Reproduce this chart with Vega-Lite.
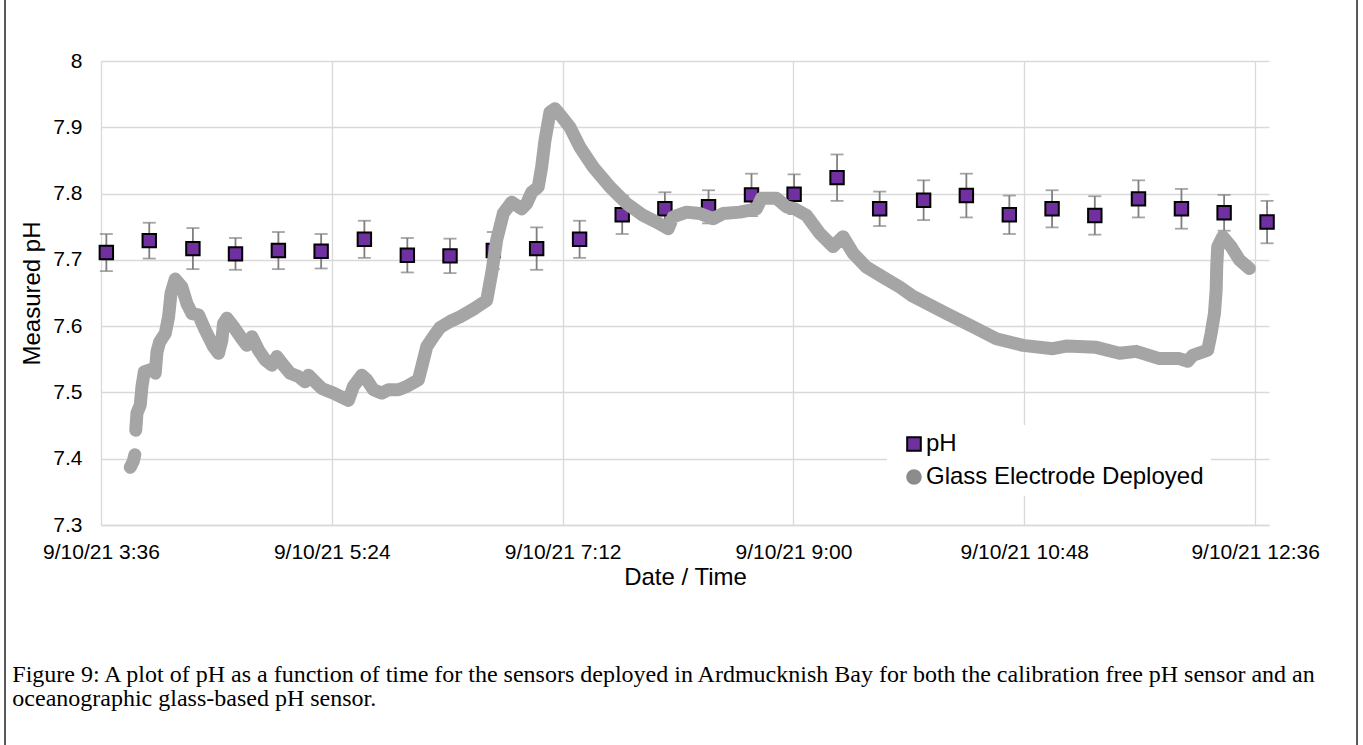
{
  "$schema": "https://vega.github.io/schema/vega-lite/v6.json",
  "width": 1168,
  "height": 464,
  "autosize": {"type": "none"},
  "padding": {"left": 101, "top": 61, "right": 94, "bottom": 220},
  "background": "white",
  "config": {
    "font": "Liberation Sans",
    "view": {"stroke": null}
  },
  "title": {
    "text": ["Figure 9: A plot of pH as a function of time for the sensors deployed in Ardmucknish Bay for both the calibration free pH sensor and an", "oceanographic glass-based pH sensor."],
    "orient": "bottom",
    "anchor": "start",
    "frame": "bounds",
    "font": "Liberation Serif",
    "fontSize": 24,
    "fontWeight": "normal",
    "color": "#000000",
    "lineHeight": 24,
    "offset": -128,
    "dx": 8
  },
  "datasets": {
    "sensor": [
      {"time": "2021-09-10T03:38:30", "ph": 7.711, "err": 0.028},
      {"time": "2021-09-10T03:58:35", "ph": 7.729, "err": 0.027},
      {"time": "2021-09-10T04:19:00", "ph": 7.717, "err": 0.031},
      {"time": "2021-09-10T04:38:56", "ph": 7.709, "err": 0.024},
      {"time": "2021-09-10T04:59:00", "ph": 7.714, "err": 0.028},
      {"time": "2021-09-10T05:19:00", "ph": 7.713, "err": 0.026},
      {"time": "2021-09-10T05:39:14", "ph": 7.731, "err": 0.028},
      {"time": "2021-09-10T05:59:20", "ph": 7.707, "err": 0.026},
      {"time": "2021-09-10T06:19:18", "ph": 7.706, "err": 0.026},
      {"time": "2021-09-10T06:39:34", "ph": 7.714, "err": 0.028},
      {"time": "2021-09-10T06:59:50", "ph": 7.717, "err": 0.032},
      {"time": "2021-09-10T07:19:56", "ph": 7.731, "err": 0.028},
      {"time": "2021-09-10T07:39:52", "ph": 7.768, "err": 0.029},
      {"time": "2021-09-10T07:59:50", "ph": 7.777, "err": 0.025},
      {"time": "2021-09-10T08:20:16", "ph": 7.780, "err": 0.025},
      {"time": "2021-09-10T08:40:22", "ph": 7.798, "err": 0.032},
      {"time": "2021-09-10T09:00:18", "ph": 7.799, "err": 0.030},
      {"time": "2021-09-10T09:20:24", "ph": 7.824, "err": 0.035},
      {"time": "2021-09-10T09:40:20", "ph": 7.777, "err": 0.026},
      {"time": "2021-09-10T10:00:54", "ph": 7.790, "err": 0.030},
      {"time": "2021-09-10T10:20:54", "ph": 7.797, "err": 0.033},
      {"time": "2021-09-10T10:41:00", "ph": 7.768, "err": 0.029},
      {"time": "2021-09-10T11:01:00", "ph": 7.777, "err": 0.028},
      {"time": "2021-09-10T11:21:00", "ph": 7.767, "err": 0.029},
      {"time": "2021-09-10T11:41:26", "ph": 7.792, "err": 0.028},
      {"time": "2021-09-10T12:01:32", "ph": 7.777, "err": 0.030},
      {"time": "2021-09-10T12:21:30", "ph": 7.771, "err": 0.027},
      {"time": "2021-09-10T12:41:36", "ph": 7.757, "err": 0.032}
    ],
    "glass": [
      {"time": "2021-09-10T03:49:40", "ph": 7.387, "seg": 1},
      {"time": "2021-09-10T03:51:05", "ph": 7.396, "seg": 1},
      {"time": "2021-09-10T03:51:50", "ph": 7.406, "seg": 1},
      {"time": "2021-09-10T03:52:15", "ph": 7.443, "seg": 2},
      {"time": "2021-09-10T03:52:50", "ph": 7.469, "seg": 2},
      {"time": "2021-09-10T03:54:22", "ph": 7.481, "seg": 2},
      {"time": "2021-09-10T03:55:10", "ph": 7.509, "seg": 2},
      {"time": "2021-09-10T03:56:14", "ph": 7.531, "seg": 2},
      {"time": "2021-09-10T03:59:50", "ph": 7.535, "seg": 2},
      {"time": "2021-09-10T04:01:23", "ph": 7.529, "seg": 2},
      {"time": "2021-09-10T04:02:11", "ph": 7.561, "seg": 2},
      {"time": "2021-09-10T04:03:24", "ph": 7.576, "seg": 2},
      {"time": "2021-09-10T04:06:04", "ph": 7.589, "seg": 2},
      {"time": "2021-09-10T04:07:37", "ph": 7.614, "seg": 2},
      {"time": "2021-09-10T04:08:44", "ph": 7.649, "seg": 2},
      {"time": "2021-09-10T04:10:44", "ph": 7.671, "seg": 2},
      {"time": "2021-09-10T04:13:52", "ph": 7.659, "seg": 2},
      {"time": "2021-09-10T04:16:13", "ph": 7.634, "seg": 2},
      {"time": "2021-09-10T04:18:33", "ph": 7.619, "seg": 2},
      {"time": "2021-09-10T04:21:38", "ph": 7.617, "seg": 2},
      {"time": "2021-09-10T04:24:46", "ph": 7.594, "seg": 2},
      {"time": "2021-09-10T04:28:38", "ph": 7.569, "seg": 2},
      {"time": "2021-09-10T04:30:59", "ph": 7.559, "seg": 2},
      {"time": "2021-09-10T04:32:34", "ph": 7.579, "seg": 2},
      {"time": "2021-09-10T04:33:19", "ph": 7.604, "seg": 2},
      {"time": "2021-09-10T04:34:55", "ph": 7.612, "seg": 2},
      {"time": "2021-09-10T04:38:00", "ph": 7.599, "seg": 2},
      {"time": "2021-09-10T04:41:55", "ph": 7.581, "seg": 2},
      {"time": "2021-09-10T04:44:16", "ph": 7.571, "seg": 2},
      {"time": "2021-09-10T04:46:36", "ph": 7.584, "seg": 2},
      {"time": "2021-09-10T04:49:41", "ph": 7.564, "seg": 2},
      {"time": "2021-09-10T04:52:49", "ph": 7.549, "seg": 2},
      {"time": "2021-09-10T04:55:57", "ph": 7.541, "seg": 2},
      {"time": "2021-09-10T04:58:17", "ph": 7.554, "seg": 2},
      {"time": "2021-09-10T05:01:22", "ph": 7.541, "seg": 2},
      {"time": "2021-09-10T05:04:30", "ph": 7.529, "seg": 2},
      {"time": "2021-09-10T05:08:23", "ph": 7.524, "seg": 2},
      {"time": "2021-09-10T05:11:31", "ph": 7.516, "seg": 2},
      {"time": "2021-09-10T05:13:04", "ph": 7.526, "seg": 2},
      {"time": "2021-09-10T05:16:11", "ph": 7.516, "seg": 2},
      {"time": "2021-09-10T05:19:19", "ph": 7.506, "seg": 2},
      {"time": "2021-09-10T05:24:45", "ph": 7.499, "seg": 2},
      {"time": "2021-09-10T05:31:46", "ph": 7.488, "seg": 2},
      {"time": "2021-09-10T05:34:06", "ph": 7.509, "seg": 2},
      {"time": "2021-09-10T05:38:02", "ph": 7.526, "seg": 2},
      {"time": "2021-09-10T05:40:22", "ph": 7.519, "seg": 2},
      {"time": "2021-09-10T05:43:27", "ph": 7.504, "seg": 2},
      {"time": "2021-09-10T05:47:23", "ph": 7.499, "seg": 2},
      {"time": "2021-09-10T05:50:28", "ph": 7.504, "seg": 2},
      {"time": "2021-09-10T05:55:08", "ph": 7.504, "seg": 2},
      {"time": "2021-09-10T05:59:04", "ph": 7.509, "seg": 2},
      {"time": "2021-09-10T06:04:29", "ph": 7.519, "seg": 2},
      {"time": "2021-09-10T06:06:05", "ph": 7.539, "seg": 2},
      {"time": "2021-09-10T06:08:25", "ph": 7.569, "seg": 2},
      {"time": "2021-09-10T06:11:30", "ph": 7.584, "seg": 2},
      {"time": "2021-09-10T06:14:38", "ph": 7.598, "seg": 2},
      {"time": "2021-09-10T06:19:19", "ph": 7.607, "seg": 2},
      {"time": "2021-09-10T06:23:59", "ph": 7.614, "seg": 2},
      {"time": "2021-09-10T06:30:59", "ph": 7.627, "seg": 2},
      {"time": "2021-09-10T06:36:28", "ph": 7.639, "seg": 2},
      {"time": "2021-09-10T06:38:48", "ph": 7.680, "seg": 2},
      {"time": "2021-09-10T06:41:08", "ph": 7.730, "seg": 2},
      {"time": "2021-09-10T06:44:14", "ph": 7.770, "seg": 2},
      {"time": "2021-09-10T06:48:09", "ph": 7.787, "seg": 2},
      {"time": "2021-09-10T06:52:50", "ph": 7.777, "seg": 2},
      {"time": "2021-09-10T06:55:10", "ph": 7.785, "seg": 2},
      {"time": "2021-09-10T06:57:31", "ph": 7.802, "seg": 2},
      {"time": "2021-09-10T07:00:35", "ph": 7.810, "seg": 2},
      {"time": "2021-09-10T07:02:11", "ph": 7.840, "seg": 2},
      {"time": "2021-09-10T07:03:43", "ph": 7.880, "seg": 2},
      {"time": "2021-09-10T07:06:04", "ph": 7.923, "seg": 2},
      {"time": "2021-09-10T07:08:24", "ph": 7.928, "seg": 2},
      {"time": "2021-09-10T07:12:17", "ph": 7.913, "seg": 2},
      {"time": "2021-09-10T07:15:25", "ph": 7.900, "seg": 2},
      {"time": "2021-09-10T07:20:05", "ph": 7.870, "seg": 2},
      {"time": "2021-09-10T07:26:19", "ph": 7.840, "seg": 2},
      {"time": "2021-09-10T07:34:07", "ph": 7.810, "seg": 2},
      {"time": "2021-09-10T07:41:55", "ph": 7.785, "seg": 2},
      {"time": "2021-09-10T07:49:41", "ph": 7.767, "seg": 2},
      {"time": "2021-09-10T07:55:57", "ph": 7.757, "seg": 2},
      {"time": "2021-09-10T08:01:22", "ph": 7.747, "seg": 2},
      {"time": "2021-09-10T08:03:43", "ph": 7.765, "seg": 2},
      {"time": "2021-09-10T08:09:58", "ph": 7.772, "seg": 2},
      {"time": "2021-09-10T08:16:11", "ph": 7.770, "seg": 2},
      {"time": "2021-09-10T08:22:25", "ph": 7.762, "seg": 2},
      {"time": "2021-09-10T08:27:05", "ph": 7.770, "seg": 2},
      {"time": "2021-09-10T08:34:53", "ph": 7.772, "seg": 2},
      {"time": "2021-09-10T08:42:42", "ph": 7.777, "seg": 2},
      {"time": "2021-09-10T08:45:02", "ph": 7.793, "seg": 2},
      {"time": "2021-09-10T08:52:03", "ph": 7.793, "seg": 2},
      {"time": "2021-09-10T08:56:44", "ph": 7.780, "seg": 2},
      {"time": "2021-09-10T09:00:37", "ph": 7.777, "seg": 2},
      {"time": "2021-09-10T09:06:05", "ph": 7.767, "seg": 2},
      {"time": "2021-09-10T09:12:18", "ph": 7.740, "seg": 2},
      {"time": "2021-09-10T09:18:31", "ph": 7.720, "seg": 2},
      {"time": "2021-09-10T09:23:11", "ph": 7.735, "seg": 2},
      {"time": "2021-09-10T09:27:52", "ph": 7.710, "seg": 2},
      {"time": "2021-09-10T09:34:08", "ph": 7.689, "seg": 2},
      {"time": "2021-09-10T09:41:53", "ph": 7.674, "seg": 2},
      {"time": "2021-09-10T09:49:42", "ph": 7.659, "seg": 2},
      {"time": "2021-09-10T09:55:55", "ph": 7.645, "seg": 2},
      {"time": "2021-09-10T10:11:32", "ph": 7.619, "seg": 2},
      {"time": "2021-09-10T10:23:58", "ph": 7.599, "seg": 2},
      {"time": "2021-09-10T10:34:55", "ph": 7.581, "seg": 2},
      {"time": "2021-09-10T10:47:21", "ph": 7.571, "seg": 2},
      {"time": "2021-09-10T11:01:22", "ph": 7.566, "seg": 2},
      {"time": "2021-09-10T11:07:38", "ph": 7.570, "seg": 2},
      {"time": "2021-09-10T11:21:40", "ph": 7.568, "seg": 2},
      {"time": "2021-09-10T11:32:33", "ph": 7.559, "seg": 2},
      {"time": "2021-09-10T11:40:22", "ph": 7.562, "seg": 2},
      {"time": "2021-09-10T11:51:15", "ph": 7.551, "seg": 2},
      {"time": "2021-09-10T12:00:36", "ph": 7.551, "seg": 2},
      {"time": "2021-09-10T12:04:29", "ph": 7.547, "seg": 2},
      {"time": "2021-09-10T12:06:49", "ph": 7.556, "seg": 2},
      {"time": "2021-09-10T12:13:50", "ph": 7.564, "seg": 2},
      {"time": "2021-09-10T12:15:25", "ph": 7.589, "seg": 2},
      {"time": "2021-09-10T12:16:58", "ph": 7.619, "seg": 2},
      {"time": "2021-09-10T12:17:46", "ph": 7.654, "seg": 2},
      {"time": "2021-09-10T12:18:02", "ph": 7.689, "seg": 2},
      {"time": "2021-09-10T12:18:31", "ph": 7.720, "seg": 2},
      {"time": "2021-09-10T12:20:51", "ph": 7.735, "seg": 2},
      {"time": "2021-09-10T12:24:46", "ph": 7.720, "seg": 2},
      {"time": "2021-09-10T12:28:39", "ph": 7.700, "seg": 2},
      {"time": "2021-09-10T12:33:20", "ph": 7.687, "seg": 2}
    ],
    "frame": [
      {"t0": "2021-09-10T02:51:05", "t1": "2021-09-10T13:23:41", "p0": 8.845, "p1": 6.9}
    ]
  },
  "encoding": {
    "x": {
      "field": "time",
      "type": "temporal",
      "title": "Date / Time",
      "scale": {
        "domain": [
          {"year": 2021, "month": 9, "date": 10, "hours": 3, "minutes": 36},
          {"year": 2021, "month": 9, "date": 10, "hours": 12, "minutes": 42, "seconds": 30}
        ],
        "nice": false
      },
      "axis": {
        "values": [
          {"year": 2021, "month": 9, "date": 10, "hours": 3, "minutes": 36},
          {"year": 2021, "month": 9, "date": 10, "hours": 5, "minutes": 24},
          {"year": 2021, "month": 9, "date": 10, "hours": 7, "minutes": 12},
          {"year": 2021, "month": 9, "date": 10, "hours": 9, "minutes": 0},
          {"year": 2021, "month": 9, "date": 10, "hours": 10, "minutes": 48},
          {"year": 2021, "month": 9, "date": 10, "hours": 12, "minutes": 36}
        ],
        "format": "%-m/%-d/%y %-H:%M",
        "labelFontSize": 21,
        "labelColor": "#000000",
        "labelPadding": 16,
        "labelFlush": false,
        "labelOverlap": false,
        "ticks": false,
        "domain": true,
        "domainColor": "#d9d9d9",
        "domainWidth": 1.3,
        "grid": true,
        "gridColor": "#d9d9d9",
        "gridWidth": 1.3,
        "titleFontSize": 24,
        "titleFontWeight": "normal",
        "titleColor": "#000000",
        "titlePadding": 3
      }
    },
    "y": {
      "field": "ph",
      "type": "quantitative",
      "title": "Measured pH",
      "scale": {"domain": [7.3, 8], "nice": false, "zero": false},
      "axis": {
        "values": [7.3, 7.4, 7.5, 7.6, 7.7, 7.8, 7.9, 8],
        "format": ".1~f",
        "labelFontSize": 21,
        "labelColor": "#000000",
        "labelPadding": 19,
        "ticks": false,
        "domain": false,
        "grid": true,
        "gridColor": "#d9d9d9",
        "gridWidth": 1.3,
        "titleFontSize": 24,
        "titleFontWeight": "normal",
        "titleColor": "#000000",
        "titlePadding": 8
      }
    }
  },
  "layer": [
    {
      "data": {"name": "sensor"},
      "mark": {"type": "errorbar", "ticks": true, "size": 13, "thickness": 1.8, "color": "#7f7f7f"},
      "encoding": {
        "yError": {"field": "err"}
      }
    },
    {
      "data": {"name": "sensor"},
      "mark": {"type": "point", "filled": true, "size": 180, "strokeWidth": 2, "opacity": 1},
      "encoding": {
        "fill": {
          "datum": "pH",
          "type": "nominal",
          "scale": {"domain": ["pH", "Glass Electrode Deployed"], "range": ["#7030a0", "#8c8c8c"]},
          "legend": {"title": null, "orient": "none", "legendX": 786, "legendY": 364, "fillColor": "white", "padding": 7, "symbolOffset": 8, "labelFontSize": 24, "labelLimit": 500, "labelColor": "#000000", "labelOffset": 0, "rowPadding": 9, "symbolSize": 185, "symbolStrokeWidth": 2, "symbolOpacity": 1}
        },
        "shape": {
          "datum": "pH",
          "type": "nominal",
          "scale": {"domain": ["pH", "Glass Electrode Deployed"], "range": ["square", "circle"]},
          "legend": {"title": null, "orient": "none", "legendX": 786, "legendY": 364, "fillColor": "white", "padding": 7, "symbolOffset": 8, "labelFontSize": 24, "labelLimit": 500, "labelColor": "#000000", "labelOffset": 0, "rowPadding": 9, "symbolSize": 185, "symbolStrokeWidth": 2, "symbolOpacity": 1}
        },
        "stroke": {
          "datum": "pH",
          "type": "nominal",
          "scale": {"domain": ["pH", "Glass Electrode Deployed"], "range": ["#000000", "#8c8c8c"]},
          "legend": {"title": null, "orient": "none", "legendX": 786, "legendY": 364, "fillColor": "white", "padding": 7, "symbolOffset": 8, "labelFontSize": 24, "labelLimit": 500, "labelColor": "#000000", "labelOffset": 0, "rowPadding": 9, "symbolSize": 185, "symbolStrokeWidth": 2, "symbolOpacity": 1}
        }
      }
    },
    {
      "data": {"name": "glass"},
      "mark": {"type": "line", "color": "#a5a5a5", "strokeWidth": 13, "strokeCap": "round", "strokeJoin": "round"},
      "encoding": {
        "detail": {"field": "seg", "type": "nominal"}
      }
    },
    {
      "data": {"name": "frame"},
      "mark": {"type": "rect", "fill": "transparent", "stroke": "#000000", "strokeWidth": 1.3, "clip": false},
      "encoding": {
        "x": {"field": "t0", "type": "temporal"},
        "x2": {"field": "t1"},
        "y": {"field": "p0", "type": "quantitative"},
        "y2": {"field": "p1"}
      }
    }
  ]
}
